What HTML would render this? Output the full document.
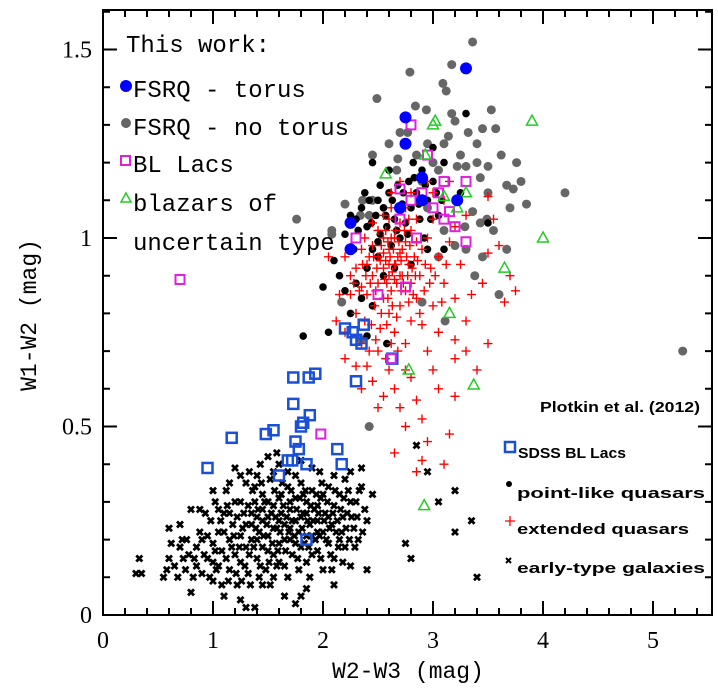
<!DOCTYPE html>
<html><head><meta charset="utf-8"><style>
body{margin:0;background:#fff;}
svg{display:block;}
.mono{font-family:"Liberation Mono",monospace;}
</style></head><body>
<svg id="chart" width="718" height="693">
<g id="marks"></g>
<g id="axes"></g>
<g class="mono" font-size="24" fill="#000">
  <text x="126" y="52">This work:</text>
  <circle cx="126" cy="86" r="6" fill="#0000ff"/>
  <text x="133" y="97">FSRQ - torus</text>
  <circle cx="126" cy="123" r="5" fill="#666"/>
  <text x="133" y="135">FSRQ - no torus</text>
  <rect x="121" y="156" width="9" height="9" fill="none" stroke="#e020e0" stroke-width="2"/>
  <text x="133" y="172">BL Lacs</text>
  <polygon points="126,193 131,202 121,202" fill="none" stroke="#22cc22" stroke-width="1.5"/>
  <text x="133" y="211">blazars of</text>
  <text x="133" y="250">uncertain type</text>
</g>
<g font-family="Liberation Sans,sans-serif" font-weight="bold" font-size="15" fill="#000">
  <text x="540" y="412" textLength="160" lengthAdjust="spacingAndGlyphs">Plotkin et al. (2012)</text>
  <rect x="505" y="442" width="10" height="10" fill="none" stroke="#1a4fd6" stroke-width="2.5"/>
  <text x="518" y="458" textLength="108" lengthAdjust="spacingAndGlyphs">SDSS BL Lacs</text>
  <circle cx="509" cy="484" r="3" fill="#000"/>
  <text x="517" y="498" textLength="188" lengthAdjust="spacingAndGlyphs">point-like quasars</text>
  <path d="M505 521h10M510 516v10" stroke="#f00" stroke-width="1.3"/>
  <text x="517" y="534" textLength="172" lengthAdjust="spacingAndGlyphs">extended quasars</text>
  <path d="M506 558l5 5M511 558l-5 5" stroke="#000" stroke-width="2"/>
  <text x="517" y="573" textLength="188" lengthAdjust="spacingAndGlyphs">early-type galaxies</text>
</g>
</svg>
<script>
const xTicks=[0,1,2,3,4,5];
const yTicks=[0,0.5,1,1.5];
const yTickLabels=["0","0.5","1","1.5"];
const galaxies=[[0.3,0.11],[0.35,0.11],[0.33,0.15],[0.55,0.1],[0.6,0.15],[0.6,0.23],[0.65,0.13],[0.7,0.24],[0.72,0.2],[0.75,0.12],[0.78,0.16],[0.8,0.06],[0.82,0.1],[0.85,0.18],[0.88,0.28],[0.9,0.11],[0.9,0.2],[0.95,0.15],[0.98,0.25],[1.0,0.09],[1.0,0.19],[1.02,0.3],[1.05,0.13],[1.05,0.22],[1.08,0.17],[1.1,0.27],[1.1,0.05],[1.12,0.33],[1.15,0.2],[1.15,0.12],[1.18,0.24],[1.2,0.16],[1.2,0.3],[1.22,0.08],[1.25,0.21],[1.25,0.14],[1.28,0.27],[1.3,0.18],[1.3,0.35],[1.32,0.11],[1.35,0.24],[1.35,0.2],[1.38,0.3],[1.4,0.15],[1.4,0.26],[1.42,0.22],[1.45,0.32],[1.45,0.18],[1.48,0.12],[1.5,0.26],[1.5,0.21],[1.52,0.36],[1.55,0.29],[1.55,0.16],[1.58,0.23],[1.6,0.31],[1.6,0.19],[1.62,0.27],[1.65,0.13],[1.65,0.24],[1.68,0.34],[1.7,0.2],[1.7,0.28],[1.72,0.16],[1.75,0.25],[1.75,0.31],[1.78,0.22],[1.8,0.18],[1.8,0.35],[1.82,0.27],[1.85,0.3],[1.85,0.14],[1.88,0.24],[1.9,0.21],[1.9,0.33],[1.92,0.28],[1.95,0.17],[1.95,0.25],[1.98,0.31],[2.0,0.22],[2.0,0.12],[2.02,0.27],[2.05,0.19],[2.05,0.34],[2.08,0.24],[2.1,0.29],[2.1,0.15],[2.12,0.22],[2.15,0.32],[2.18,0.26],[2.2,0.18],[2.2,0.36],[2.22,0.27],[2.25,0.13],[2.28,0.23],[2.3,0.3],[2.32,0.2],[2.35,0.39],[2.4,0.25],[2.45,0.32],[1.3,0.02],[1.38,0.02],[1.65,0.05],[1.8,0.05],[1.85,0.07],[1.75,0.03],[1.55,0.1],[1.45,0.08],[1.25,0.04],[2.1,0.08],[1.0,0.33],[0.8,0.28],[1.2,0.39],[1.4,0.37],[1.6,0.4],[1.5,0.42],[1.55,0.38],[1.75,0.37],[1.9,0.39],[2.4,0.12],[2.75,0.19],[2.95,0.38],[3.05,0.3],[3.2,0.22],[3.2,0.33],[3.35,0.25],[3.4,0.1],[2.85,0.45],[2.8,0.15],[1.35,0.27],[1.45,0.25],[1.5,0.3],[1.6,0.25],[1.65,0.2],[1.75,0.19],[1.8,0.26],[1.85,0.21],[1.95,0.22],[2.05,0.26],[1.15,0.27],[1.25,0.3],[1.4,0.2],[1.5,0.17],[1.7,0.23],[1.1,0.22],[1.0,0.14],[0.95,0.21],[0.85,0.13],[0.7,0.18],[1.6,0.14],[1.9,0.16],[2.15,0.2],[2.25,0.3],[1.3,0.24],[1.55,0.23],[1.7,0.3],[1.95,0.29],[1.45,0.28],[1.85,0.27],
[1.02,0.17],[1.07,0.25],[1.12,0.15],[1.13,0.29],[1.17,0.18],[1.19,0.21],[1.22,0.26],[1.24,0.18],[1.27,0.23],[1.29,0.13],[1.32,0.29],[1.33,0.16],[1.36,0.33],[1.37,0.18],[1.39,0.23],[1.41,0.28],[1.43,0.13],[1.44,0.35],[1.46,0.21],[1.47,0.3],[1.49,0.24],[1.51,0.14],[1.53,0.27],[1.54,0.19],[1.56,0.33],[1.57,0.26],[1.59,0.17],[1.61,0.22],[1.63,0.35],[1.64,0.29],[1.66,0.17],[1.67,0.26],[1.69,0.22],[1.71,0.33],[1.72,0.25],[1.74,0.21],[1.76,0.28],[1.77,0.15],[1.79,0.31],[1.81,0.23],[1.83,0.19],[1.84,0.33],[1.86,0.25],[1.87,0.18],[1.89,0.29],[1.91,0.25],[1.93,0.2],[1.94,0.32],[1.96,0.27],[1.97,0.21],[1.99,0.35],[2.01,0.25],[2.03,0.2],[2.04,0.3],[2.06,0.23],[2.07,0.16],[2.09,0.27],[2.11,0.33],[2.13,0.25],[2.14,0.18],[2.16,0.28],[2.17,0.22],[2.19,0.31],[2.21,0.23],[2.23,0.33],[2.24,0.2],[2.26,0.26],[2.29,0.18],[2.31,0.26],[2.33,0.33],[2.36,0.22],[2.38,0.28],[0.92,0.16],[0.97,0.1],[0.88,0.22],[0.83,0.15],[0.76,0.2],[0.68,0.1],[0.62,0.19],[0.58,0.12],[0.73,0.15],[0.93,0.27],[1.03,0.12],[1.08,0.08],[1.14,0.09],[1.21,0.11],[1.26,0.09],[1.34,0.08],[1.42,0.1],[1.52,0.08],[1.58,0.13],[1.68,0.1],[1.78,0.12],[1.88,0.1],[1.98,0.15],[2.08,0.12],[2.18,0.14],[1.33,0.38],[1.43,0.4],[1.58,0.43],[1.68,0.38],[1.8,0.41],[1.97,0.38],[2.1,0.37],[2.25,0.38],[2.35,0.34],[1.15,0.35],[1.25,0.37],[1.05,0.28],[1.38,0.34],[1.62,0.32],[1.82,0.32],[2.0,0.32]];
const greyQuasars=[[3.36,1.52],[3.17,1.46],[3.09,1.41],[3.12,1.39],[2.79,1.44],[2.49,1.37],[2.84,1.35],[2.94,1.34],[3.17,1.33],[3.2,1.31],[3.53,1.34],[3.45,1.29],[3.57,1.29],[3.32,1.28],[2.77,1.28],[3.14,1.27],[2.95,1.25],[2.45,1.22],[2.68,1.21],[3.76,1.2],[3.4,1.2],[3.3,1.19],[3.22,1.19],[2.67,1.18],[3.5,1.19],[3.43,1.16],[3.67,1.14],[3.73,1.13],[2.2,1.09],[2.36,1.1],[2.45,1.1],[2.34,1.06],[2.42,1.06],[3.36,1.07],[3.49,1.05],[3.43,1.04],[1.76,1.05],[2.08,1.02],[2.08,1.01],[3.29,1.03],[3.2,0.98],[3.3,0.97],[3.67,0.97],[3.38,0.9],[2.17,0.83],[2.9,0.83],[3.11,0.78],[3.0,1.2],[2.9,1.15],[2.85,1.22],[3.05,1.18],[2.95,1.08],[3.1,1.02],[3.05,0.95],[2.7,1.28],[3.25,1.22],[3.1,1.25],[2.6,1.25],[3.5,1.12],[3.55,1.02],[3.7,1.08],[3.85,1.09],[4.2,1.12],[3.4,1.25],[3.62,1.22],[3.8,1.15],[3.45,0.95],[3.6,0.85],[2.42,0.5],[2.35,0.73],[5.27,0.7]];
const pointQuasars=[[2.2,1.01],[2.25,1.06],[2.3,1.05],[2.35,1.08],[2.4,1.03],[2.42,1.1],[2.45,0.97],[2.48,1.06],[2.5,1.1],[2.52,1.01],[2.55,1.08],[2.58,1.03],[2.6,1.12],[2.62,0.98],[2.65,1.05],[2.68,1.14],[2.7,1.0],[2.72,1.09],[2.75,1.04],[2.78,1.15],[2.8,1.08],[2.82,1.2],[2.85,1.12],[2.88,1.05],[2.9,1.18],[2.92,1.0],[2.95,1.1],[3.0,1.15],[3.05,1.06],[3.1,1.2],[3.25,1.12],[3.0,1.24],[2.6,1.18],[2.45,1.2],[2.1,0.94],[2.15,0.9],[2.3,0.88],[2.4,0.92],[2.5,0.95],[2.55,0.9],[2.65,0.92],[2.35,0.84],[2.45,0.82],[2.2,0.86],[2.25,0.8],[2.0,0.87],[1.82,0.74],[2.05,0.75],[2.4,0.74],[3.5,1.04],[3.3,1.33],[2.58,0.72],[3.1,0.97],[2.8,0.93],[2.95,0.97],[2.32,1.02],[2.38,1.12],[2.52,1.14],[2.57,1.06],[2.63,1.1],[2.67,1.02],[2.73,1.12],[2.77,1.01],[2.83,1.16],[2.87,1.09],[2.93,1.14],[2.98,1.05],[3.03,1.12],[3.08,1.1],[2.28,0.97],[2.44,1.04],[2.5,0.99]];
const extendedQuasars=[[2.2,0.95],[2.25,0.9],[2.25,0.85],[2.3,0.92],[2.3,0.8],[2.35,0.97],[2.35,0.87],[2.38,0.78],[2.4,0.93],[2.4,0.85],[2.42,0.7],[2.45,0.98],[2.45,0.9],[2.47,0.82],[2.5,1.02],[2.5,0.95],[2.5,0.88],[2.52,0.76],[2.55,1.0],[2.55,0.92],[2.55,0.84],[2.57,0.68],[2.6,1.05],[2.6,0.97],[2.6,0.9],[2.6,0.8],[2.62,0.86],[2.65,1.0],[2.65,0.93],[2.65,0.75],[2.67,0.88],[2.7,1.04],[2.7,0.96],[2.7,0.82],[2.72,0.9],[2.75,0.99],[2.75,0.86],[2.75,0.72],[2.78,0.93],[2.8,1.02],[2.8,0.88],[2.8,0.78],[2.83,0.95],[2.85,0.84],[2.85,1.05],[2.88,0.9],[2.9,0.97],[2.9,0.77],[2.92,0.86],[2.95,1.0],[2.95,0.7],[2.98,0.92],[3.0,0.82],[3.0,1.05],[3.05,0.95],[3.05,0.75],[3.1,0.88],[3.1,1.1],[3.15,0.99],[3.2,0.84],[3.2,0.68],[3.25,0.93],[3.3,1.06],[3.3,0.78],[3.35,0.85],[3.45,0.88],[3.5,0.72],[3.5,0.96],[3.55,1.05],[3.6,0.98],[3.7,0.9],[3.65,0.83],[3.75,0.86],[3.5,1.11],[3.2,0.73],[3.3,0.7],[3.4,0.65],[2.2,0.75],[2.15,0.85],[2.12,0.78],[2.05,0.95],[2.2,0.68],[2.3,0.66],[2.35,0.6],[2.45,0.62],[2.5,0.55],[2.55,0.58],[2.65,0.6],[2.7,0.55],[2.75,0.5],[2.8,0.63],[2.85,0.57],[2.9,0.52],[2.95,0.46],[3.05,0.6],[3.1,0.4],[3.15,0.48],[2.65,0.43],[2.85,0.38],[2.9,0.41],[3.2,0.58],[2.6,0.65],[2.4,0.66],[2.35,0.72],[2.5,0.7],[2.75,0.65],[3.0,0.65],[2.55,0.96],[2.6,0.93],[2.62,1.0],[2.65,0.89],[2.68,0.95],[2.58,0.88],[2.52,0.94],[2.48,0.86],[2.7,0.9],[2.72,0.97],[2.66,1.02],[2.57,1.02],[2.62,1.08],[2.55,1.06],[2.75,1.08],[2.8,1.12],[2.7,1.15],[2.62,1.12],[2.9,1.1],[2.85,0.99],[2.78,1.05],[2.95,1.15],[3.0,1.12],[3.15,1.15],[3.2,1.03],[2.45,1.04],[2.42,0.95],[2.38,1.0],
[2.53,0.98],[2.57,0.94],[2.59,0.99],[2.61,0.95],[2.63,0.91],[2.64,0.97],[2.66,0.93],[2.69,0.99],[2.71,0.94],[2.73,0.88],[2.74,1.02],[2.76,0.95],[2.77,0.9],[2.79,0.98],[2.81,0.92],[2.82,0.85],[2.84,0.9],[2.86,0.94],[2.56,0.89],[2.59,0.84],[2.63,0.82],[2.67,0.79],[2.71,0.86],[2.53,0.8],[2.49,0.92],[2.46,0.95],[2.43,0.88],[2.39,0.9],[2.36,0.93],[2.33,0.86],[2.28,0.88],[2.58,0.77],[2.68,0.7],[2.78,0.83],[2.88,0.8],[2.93,0.93],[2.97,0.88],[3.02,0.9],[3.08,0.83],[3.12,0.93],[2.44,0.77],[2.48,0.73],[2.62,0.72]];
const sdssBlLacs=[[0.95,0.39],[1.17,0.47],[1.48,0.48],[1.55,0.49],[1.6,0.37],[1.68,0.41],[1.72,0.41],[1.75,0.46],[1.78,0.44],[1.85,0.4],[1.82,0.51],[1.88,0.53],[1.73,0.56],[1.8,0.5],[1.73,0.63],[1.87,0.63],[1.93,0.64],[2.13,0.44],[2.17,0.4],[1.85,0.2],[2.2,0.76],[2.27,0.75],[2.3,0.73],[2.37,0.77],[2.35,0.72],[2.3,0.62],[2.63,0.68]];
const blLacs=[[0.7,0.89],[1.98,0.48],[2.3,1.0],[2.8,1.3],[2.95,1.22],[2.7,1.13],[2.8,1.1],[3.1,1.15],[3.3,1.15],[3.0,1.08],[3.1,1.05],[3.2,1.03],[3.3,0.99],[2.7,1.05],[2.9,1.12],[2.85,1.0],[2.75,0.87],[2.5,0.85],[3.05,1.12],[3.15,1.07],[2.62,0.68]];
const uncertain=[[2.57,1.17],[2.93,1.22],[3.0,1.3],[3.02,1.31],[3.9,1.31],[3.3,1.12],[3.22,1.08],[4.0,1.0],[3.65,0.92],[3.15,0.8],[2.78,0.65],[3.37,0.61],[2.92,0.29],[3.1,1.11]];
const fsrqTorus=[[3.3,1.45],[2.75,1.32],[2.75,1.25],[2.9,1.16],[2.25,0.97],[2.25,1.04],[2.9,1.1],[3.22,1.1],[2.7,1.08]];

const L=103,R=712,T=10,B=615;
const xScale=v=>L+v*110;
const yScale=v=>B-v*377;
const NS='http://www.w3.org/2000/svg';
const marks=document.getElementById('marks');
const axes=document.getElementById('axes');
function mk(tag,attrs,parent){const e=document.createElementNS(NS,tag);for(const k in attrs)e.setAttribute(k,attrs[k]);parent.appendChild(e);return e;}

let g;
g=mk('g',{},marks);


galaxies.forEach(d=>{const x=xScale(d[0]),y=yScale(d[1]);
 const e=mk('path',{d:`M${x-3} ${y-3}l6 6M${x+3} ${y-3}l-6 6`,stroke:'#000','stroke-width':2.8},g);
 
 });
g=mk('g',{},marks);


greyQuasars.forEach(d=>{const e=mk('circle',{cx:xScale(d[0]),cy:yScale(d[1]),r:4.5,fill:'#666'},g);
 
 });
g=mk('g',{},marks);


pointQuasars.forEach(d=>{const e=mk('circle',{cx:xScale(d[0]),cy:yScale(d[1]),r:3.8,fill:'#000'},g);
 
 });
g=mk('g',{},marks);


extendedQuasars.forEach(d=>{const x=xScale(d[0]),y=yScale(d[1]);
 const e=mk('path',{d:`M${x-4.5} ${y}h9M${x} ${y-4.5}v9`,stroke:'#f00','stroke-width':1.4},g);
 
 });
g=mk('g',{},marks);


sdssBlLacs.forEach(d=>{const e=mk('rect',{x:xScale(d[0])-5,y:yScale(d[1])-5,width:10,height:10,fill:'none',stroke:'#1a4fd6','stroke-width':2.5},g);
 
 });
g=mk('g',{},marks);


blLacs.forEach(d=>{const e=mk('rect',{x:xScale(d[0])-4.5,y:yScale(d[1])-4.5,width:9,height:9,fill:'none',stroke:'#e020e0','stroke-width':2},g);
 
 });
g=mk('g',{},marks);


uncertain.forEach(d=>{const x=xScale(d[0]),y=yScale(d[1]);
 const e=mk('polygon',{points:`${x},${y-6} ${x+5.5},${y+4} ${x-5.5},${y+4}`,fill:'none',stroke:'#22cc22','stroke-width':1.5},g);
 
 });
g=mk('g',{},marks);


fsrqTorus.forEach(d=>{const e=mk('circle',{cx:xScale(d[0]),cy:yScale(d[1]),r:6,fill:'#0000ff'},g);
 
 });

const fr=mk('rect',{x:L,y:T,width:R-L,height:B-T,fill:'none',stroke:'#000','stroke-width':2},axes);


let tp='';
for(let i=0;i<=27;i++){const v=i*0.2,x=xScale(v);if(x>R)break;const len=(i%5===0)?14:7;tp+=`M${x} ${B}v${-len}M${x} ${T}v${len}`;}
for(let i=0;i<=16;i++){const v=i*0.1,y=yScale(v);if(y<T)break;const len=(i%5===0)?14:7;tp+=`M${L} ${y}h${len}M${R} ${y}h${-len}`;}
const tk=mk('path',{d:tp,stroke:'#000','stroke-width':2},axes);


xTicks.forEach(v=>{const t=mk('text',{x:xScale(v),y:648,'text-anchor':'middle','font-family':'Liberation Serif,serif','font-size':24},axes);t.textContent=String(v);
 
 });
yTicks.forEach((v,i)=>{const t=mk('text',{x:92,y:yScale(v)+8,'text-anchor':'end','font-family':'Liberation Serif,serif','font-size':24},axes);t.textContent=yTickLabels[i];
 
 });
const xt=mk('text',{x:408,y:678,'text-anchor':'middle','font-family':'Liberation Mono,monospace','font-size':23},axes);xt.textContent='W2-W3 (mag)';


const yt=mk('text',{x:0,y:0,'text-anchor':'middle','font-family':'Liberation Mono,monospace','font-size':23,transform:'translate(36,315) rotate(-90)'},axes);yt.textContent='W1-W2 (mag)';


</script>
</body></html>
